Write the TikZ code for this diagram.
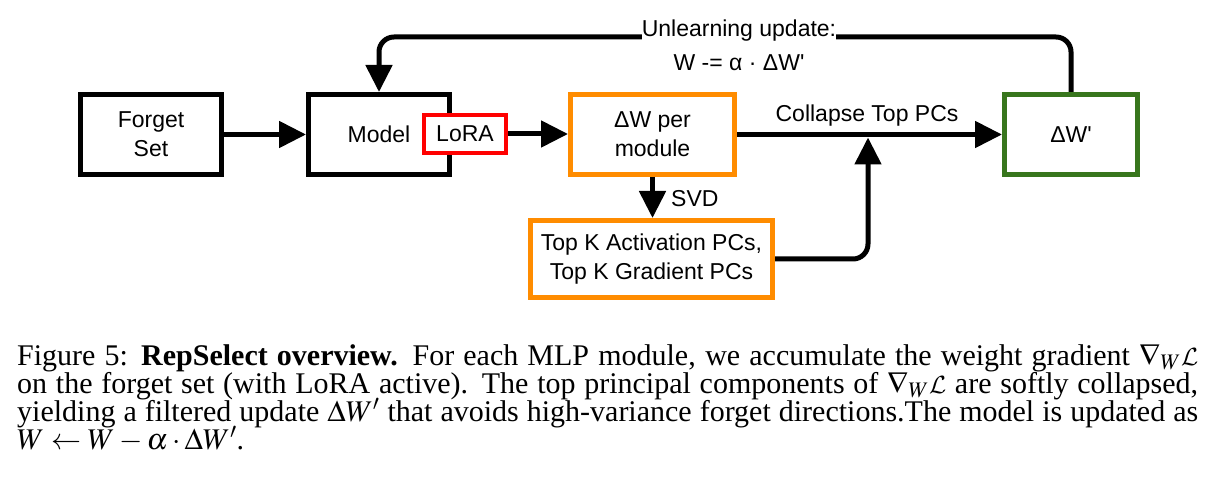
\documentclass[tikz,border=0pt]{standalone}
\usepackage{mathptmx}
\usepackage[no-math]{fontspec}
\setmainfont{Liberation Serif}
\newfontfamily\dsans{Liberation Sans}
\DeclareMathAlphabet{\mathcalcm}{OMS}{cmsy}{m}{n}
\usetikzlibrary{arrows.meta}
\definecolor{dorange}{RGB}{255,140,0}
\definecolor{dgreen}{RGB}{56,118,29}
\definecolor{dred}{RGB}{255,0,0}
\tikzset{
  dfont/.style={font=\dsans\fontsize{23}{29}\selectfont},
  box/.style={draw, line width=5pt, minimum height=80pt, inner sep=0pt, align=center, dfont, fill=white},
  arr/.style={line width=5pt, -{Triangle[length=27pt,width=26pt]}},
  lbl/.style={dfont, inner sep=0pt, align=center}
}
\begin{document}
\begin{tikzpicture}[x=1pt,y=-1pt]
\useasboundingbox (0,0) rectangle (1223,486);
% boxes
\node[box, minimum width=141pt] (forget) at (151,134.5) {Forget\\Set};
\node[box, minimum width=141pt] (model) at (379,134.5) {Model};
\node[box, draw=dred, line width=4pt, minimum width=82pt, minimum height=38pt] (lora) at (465,134) {LoRA};
\node[box, draw=dorange, minimum width=164pt] (dw) at (652.5,134.5) {ΔW per\\module};
\node[box, draw=dgreen, minimum width=133pt] (dwp) at (1071,134.5) {ΔW'};
\node[box, draw=dorange, minimum width=242pt, minimum height=77pt] (topk) at (651.5,259) {Top K Activation PCs,\\Top K Gradient PCs};
% coordinates
\coordinate (fbtop) at (700,37);
\coordinate (merge) at (868,137.5);
% connectors
\draw[arr] (forget.east) -- (model.west);
\draw[arr] (lora.east) -- (lora.east -| dw.west);
\draw[arr] (dw.east) -- (dwp.west);
\draw[arr] (dw.south) -- (dw.south |- topk.north);
\draw[arr, rounded corners=15pt] (topk.east) -| (merge);
\draw[arr, rounded corners=15pt] (dwp.north) |- (fbtop) -| (model.north);
% labels
\node[lbl, fill=white] (ul1) at (739,31) {Unlearning update:};
\node[lbl] (ul2) at (739,63) {W -= α · ΔW'};
\node[lbl] (clab) at (867,116) {Collapse Top PCs};
\node[lbl, anchor=west] (svd) at (671,199) {SVD};
% caption
\node[anchor=base west, inner sep=0pt] (cap) at (17,365) {\parbox[t]{1181pt}{\fontsize{30}{28}\selectfont\lineskiplimit=-100pt
\hbox to 1181pt{Figure 5: \textbf{RepSelect overview.} For each MLP module, we accumulate the weight gradient $\nabla_W\mathcalcm{L}$}
\hbox to 1181pt{on the forget set (with LoRA active). The top principal components of $\nabla_W\mathcalcm{L}$ are softly collapsed,}
\hbox to 1181pt{yielding a filtered update $\Delta W'$ that avoids high-variance forget directions.The model is updated as}
\hbox{$W\leftarrow W-\alpha\cdot\Delta W'$.}}};
\end{tikzpicture}
\end{document}
